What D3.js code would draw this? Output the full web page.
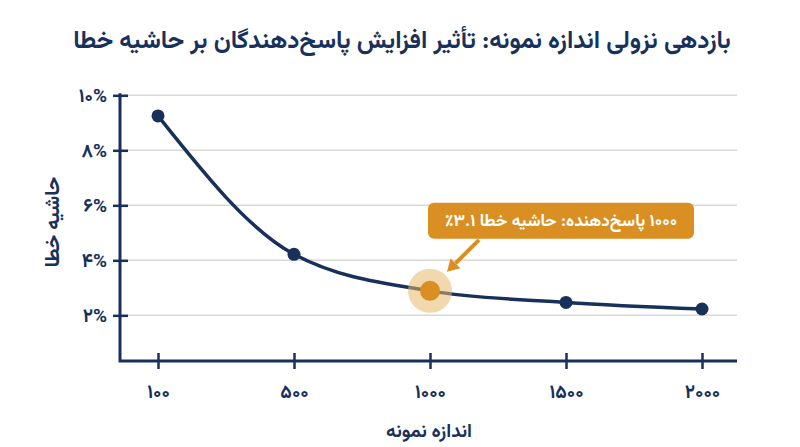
<!DOCTYPE html>
<html><head><meta charset="utf-8">
<script src="https://cdn.jsdelivr.net/npm/d3@7"></script>
<style>
html,body{margin:0;padding:0;background:#fff;}
svg{display:block;}
text{font-family:Vazirmatn,"Noto Sans Arabic","DejaVu Sans",sans-serif;font-weight:bold;}
</style></head>
<body><svg id="c" width="800" height="447"></svg>
<script>
const title = "بازدهی نزولی اندازه نمونه: تأثیر افزایش پاسخ‌دهندگان بر حاشیه خطا";
const xTitle = "اندازه نمونه";
const yTitle = "حاشیه خطا";
const sampleSizes = [100, 500, 1000, 1500, 2000];
const sampleLabels = ["۱۰۰", "۵۰۰", "۱۰۰۰", "۱۵۰۰", "۲۰۰۰"];
const marginOfError = [9.25, 4.22, 2.89, 2.47, 2.23];
const yTicks = [2, 4, 6, 8, 10];
const yTickLabels = ["۲%", "۴%", "۶%", "۸%", "۱۰%"];
const highlightSize = 1000;
const calloutText = "۱۰۰۰ پاسخ‌دهنده: حاشیه خطا \u202D٪۳.۱\u202C";

const navy = "#17315b", orange = "#d98f22", grid = "#d8d8d8";
const svg = d3.select("#c");
const L = 120, R = 737, T = 95.3, B = 361;
const ff = 'Vazirmatn,"Noto Sans Arabic","DejaVu Sans",sans-serif';

const x = d3.scalePoint().domain(sampleSizes).range([158, 702]);
const y = d3.scaleLinear().domain([0.34, 10]).range([B, T]);

svg.append("text").attr("x", 402).attr("y", 48).attr("text-anchor", "middle")
  .attr("direction", "rtl")
  .attr("font-size", 24.5).attr("fill", navy).text(title);

// gridlines
svg.append("g").selectAll("line").data(yTicks).join("line")
  .attr("x1", L).attr("x2", R).attr("y1", d => y(d)).attr("y2", d => y(d))
  .attr("stroke", grid).attr("stroke-width", 1.5);

// y axis
const yAxis = svg.append("g").attr("transform", `translate(${L},0)`)
  .call(d3.axisLeft(y).tickValues(yTicks).tickSize(8).tickFormat((d, i) => yTickLabels[i]));
yAxis.select(".domain").remove();
yAxis.selectAll(".tick line").attr("x2", 8).attr("x1", -7).attr("stroke", navy).attr("stroke-width", 2.5);
yAxis.selectAll(".tick text").attr("x", -13).attr("font-size", 19).attr("fill", navy)
  .attr("font-family", ff);

// x axis
const xAxis = svg.append("g").attr("transform", `translate(0,${B})`)
  .call(d3.axisBottom(x).tickSize(8).tickFormat((d, i) => sampleLabels[i]));
xAxis.select(".domain").remove();
xAxis.selectAll(".tick line").attr("y1", -8).attr("y2", 8).attr("stroke", navy).attr("stroke-width", 2.5);
xAxis.selectAll(".tick text").attr("y", 24).attr("font-size", 19).attr("fill", navy)
  .attr("font-family", ff);

// axis lines
svg.append("path").attr("d", `M${L},${T - 2}V${B}H${R}`).attr("fill", "none")
  .attr("stroke", navy).attr("stroke-width", 3);

svg.append("text").attr("x", 429).attr("y", 432).attr("text-anchor", "middle")
  .attr("dominant-baseline", "middle").attr("direction", "rtl")
  .attr("font-size", 19).attr("fill", navy).text(xTitle);
svg.append("text").attr("transform", "translate(54,222) rotate(-90)").attr("text-anchor", "middle")
  .attr("dominant-baseline", "middle").attr("direction", "rtl")
  .attr("font-size", 20).attr("fill", navy).text(yTitle);

const data = sampleSizes.map((s, i) => ({s, v: marginOfError[i]}));
svg.append("path").datum(data)
  .attr("d", d3.line().x(d => x(d.s)).y(d => y(d.v)).curve(d3.curveMonotoneX))
  .attr("fill", "none").attr("stroke", navy).attr("stroke-width", 3.5);

svg.append("g").selectAll("circle").data(data.filter(d => d.s !== highlightSize)).join("circle")
  .attr("cx", d => x(d.s)).attr("cy", d => y(d.v)).attr("r", 6.5).attr("fill", navy);

const h = data.find(d => d.s === highlightSize);
const hx = x(h.s), hy = y(h.v);
svg.append("circle").attr("cx", hx).attr("cy", hy).attr("r", 22).attr("fill", "#e8b86a").attr("opacity", 0.55);
svg.append("circle").attr("cx", hx).attr("cy", hy).attr("r", 10).attr("fill", orange);

// callout
const bx = hx - 2, by = hy - 88, bw = 266, bh = 36;
svg.append("rect").attr("x", bx).attr("y", by).attr("width", bw).attr("height", bh)
  .attr("rx", 6).attr("fill", orange);
svg.append("text").attr("x", bx + bw / 2).attr("y", by + bh / 2 + 1).attr("text-anchor", "middle")
  .attr("dominant-baseline", "middle").attr("direction", "rtl")
  .attr("font-size", 17).attr("fill", "#fff").text(calloutText);

// arrow
const ax1 = hx + 49, ay1 = by + bh + 1, ax2 = hx + 17, ay2 = hy - 19;
const ang = Math.atan2(ay2 - ay1, ax2 - ax1);
const hl = 12, hw = 7;
const bxh = ax2 - hl * Math.cos(ang), byh = ay2 - hl * Math.sin(ang);
svg.append("line").attr("x1", ax1).attr("y1", ay1).attr("x2", bxh).attr("y2", byh)
  .attr("stroke", orange).attr("stroke-width", 4);
svg.append("path").attr("d", `M${ax2},${ay2}L${bxh + hw * Math.sin(ang)},${byh - hw * Math.cos(ang)}L${bxh - hw * Math.sin(ang)},${byh + hw * Math.cos(ang)}Z`)
  .attr("fill", orange);
</script></body></html>
